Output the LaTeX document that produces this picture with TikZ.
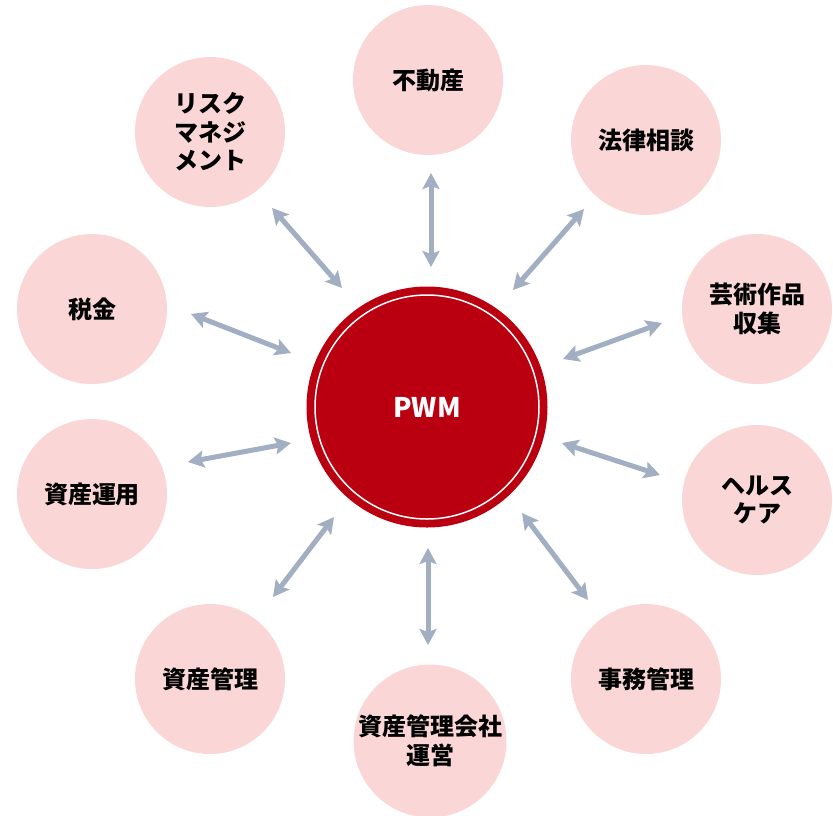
\documentclass[tikz,border=0pt]{standalone}
\usepackage{fontspec}
\setmainfont{Noto Sans CJK JP}
\usetikzlibrary{arrows.meta}
\definecolor{pinkfill}{RGB}{251,214,214}
\definecolor{pwmred}{RGB}{186,0,16}
\definecolor{arrowgray}{RGB}{162,174,194}
\begin{document}
\begin{tikzpicture}[x=1pt,y=-1pt,
  sat/.style={circle, fill=pinkfill, minimum size=150pt, inner sep=0pt, align=center,
    font=\fontsize{24}{28.5}\selectfont\bfseries, text=black},
  hub/.style={circle, fill=pwmred, minimum size=241pt, inner sep=0pt,
    font=\fontsize{27}{30}\selectfont\bfseries, text=white},
  ring/.style={circle, draw=white, line width=1.5pt, minimum size=224pt, inner sep=0pt},
  arr/.style={draw=arrowgray, line width=5pt,
    {Stealth[length=16pt,width=17pt,inset=3pt]}-{Stealth[length=16pt,width=17pt,inset=3pt]}}]
\useasboundingbox (0,0) rectangle (833,815);
% satellites
\node[sat] (fudosan) at (428,80) {不動産};
\node[sat] (horitsu) at (646,140) {法律相談};
\node[sat] (geijutsu) at (757,309) {芸術作品\\収集};
\node[sat] (health) at (757,500) {ヘルス\\ケア};
\node[sat] (jimu) at (646,679) {事務管理};
\node[sat] (unei) at (430,741) {資産管理会社\\運営};
\node[sat] (kanri) at (210,679) {資産管理};
\node[sat] (unyo) at (92,494) {資産運用};
\node[sat] (zeikin) at (92,309) {税金};
\node[sat] (risk) at (210,132) {リスク\\マネジ\\メント};
% hub
\node[hub] (pwm) at (427,407) {PWM};
\node[ring] (pwmring) at (pwm.center) {};
% arrow ends
\coordinate (a1) at (431,173); \coordinate (b1) at (431,267);
\coordinate (a2) at (584,209); \coordinate (b2) at (513,290);
\coordinate (a3) at (662,323); \coordinate (b3) at (563,359);
\coordinate (a4) at (660,475); \coordinate (b4) at (562,443);
\coordinate (a5) at (588,600); \coordinate (b5) at (522,513);
\coordinate (a6) at (428,645); \coordinate (b6) at (428,548);
\coordinate (a7) at (273,597); \coordinate (b7) at (334,517);
\coordinate (a8) at (188,462); \coordinate (b8) at (291,443);
\coordinate (a9) at (191,314); \coordinate (b9) at (291,353);
\coordinate (a10) at (272,208); \coordinate (b10) at (342,288);
\foreach \i in {1,...,10} {\draw[arr] (a\i) -- (b\i);}
\end{tikzpicture}
\end{document}
